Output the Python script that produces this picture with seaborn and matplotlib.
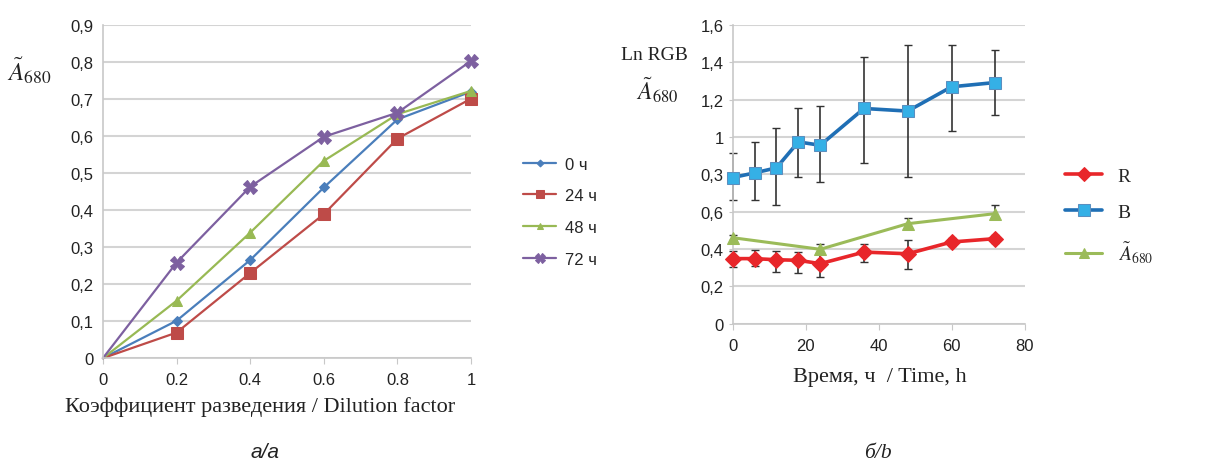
import matplotlib
matplotlib.use("Agg")
import matplotlib.pyplot as plt
import numpy as np
import pandas as pd
import seaborn as sns

# --- data: panel a (dilution series) ---
dilution = [0, 0.2, 0.4, 0.6, 0.8, 1.0]
a_0h = [0, 0.101, 0.265, 0.461, 0.645, 0.72]
a_24h = [0, 0.069, 0.230, 0.389, 0.593, 0.701]
a_48h = [0, 0.155, 0.339, 0.533, 0.659, 0.722]
a_72h = [0, 0.258, 0.463, 0.598, 0.663, 0.803]
series_names = ["0 ч", "24 ч", "48 ч", "72 ч"]

# --- data: panel b (time course) ---
time_h = [0, 6, 12, 18, 24, 36, 48, 60, 72]
b_val = [0.783, 0.808, 0.835, 0.974, 0.956, 1.153, 1.139, 1.269, 1.292]
b_hi = [0.912, 0.974, 1.046, 1.153, 1.166, 1.430, 1.493, 1.493, 1.466]
b_lo = [0.661, 0.661, 0.635, 0.787, 0.760, 0.862, 0.787, 1.033, 1.117]
r_val = [0.349, 0.349, 0.343, 0.340, 0.322, 0.384, 0.375, 0.438, 0.456]
r_hi = [0.389, 0.394, 0.390, 0.386, 0.376, 0.425, 0.447, 0.460, 0.478]
r_lo = [0.306, 0.310, 0.277, 0.272, 0.250, 0.330, 0.295, 0.414, 0.434]
time_a = [0, 24, 48, 72]
a680_val = [0.461, 0.399, 0.536, 0.590]
a680_hi = [0.475, 0.425, 0.566, 0.635]
a680_lo = [0.447, 0.380, 0.510, 0.570]
yticks_b = [0, 0.2, 0.4, 0.6, 0.8, 1.0, 1.2, 1.4, 1.6]
ytick_labels_b = ["0", "0,2", "0,4", "0,6", "0,3", "1", "1,2", "1,4", "1,6"]

sns.set_style("white")
plt.rcParams["font.family"] = ["Liberation Sans", "DejaVu Sans"]
plt.rcParams["mathtext.fontset"] = "stix"

serif = ["Liberation Serif", "DejaVu Serif"]
grid_c = "#d4d4d4"
txt_c = "#222222"
atilde = r"$\tilde{A}_{680}$"

fig = plt.figure(figsize=(12.11, 4.64), dpi=100)
ax1 = fig.add_axes([0.085, 0.226, 0.304, 0.718])
ax2 = fig.add_axes([0.605, 0.30, 0.241, 0.644])

# ---------- panel a ----------
colors_a = ["#4a7ebb", "#be4b48", "#98b954", "#7d60a0"]
markers_a = ["D", "s", "^", "X"]
msizes = [5, 9, 7, 10]
for vals, name, c, m, ms in zip([a_0h, a_24h, a_48h, a_72h], series_names,
                                colors_a, markers_a, msizes):
    sns.lineplot(x=dilution, y=vals, ax=ax1, color=c, marker=m, markersize=ms,
                 markeredgecolor=c, linewidth=1.6, label=name,
                 markevery=list(range(1, len(dilution))), clip_on=False)

ax1.set_xlim(0, 1)
ax1.set_ylim(0, 0.9)
ax1.set_xticks(dilution)
ax1.set_xticklabels(["0", "0.2", "0.4", "0.6", "0.8", "1"])
yt = np.arange(0, 0.91, 0.1)
ax1.set_yticks(yt)
ax1.set_yticklabels(["0"] + [f"0,{i}" for i in range(1, 10)])
ax1.yaxis.grid(True, color=grid_c, linewidth=1.5)
for s in ["top", "right"]:
    ax1.spines[s].set_visible(False)
for s in ["left", "bottom"]:
    ax1.spines[s].set_color("#c8c8c8")
    ax1.spines[s].set_linewidth(1.2)
ax1.tick_params(axis="x", bottom=True, length=4, color="#c8c8c8",
                labelsize=12, pad=6, labelcolor=txt_c)
ax1.tick_params(axis="y", left=False, labelsize=12, labelcolor=txt_c)
ax1.set_xlabel("Коэффициент разведения / Dilution factor", family=serif,
               fontsize=16, color=txt_c)
ax1.xaxis.set_label_coords(0.427, -0.115)
ax1.set_ylabel("")
fig.text(0.006, 0.825, atilde, fontsize=18, color=txt_c)
ax1.legend(loc="center left", bbox_to_anchor=(1.1, 0.44), frameon=False,
           fontsize=12, handlelength=2.0, handletextpad=0.5,
           labelspacing=1.0, markerscale=0.7)
fig.text(0.219, 0.012, "а/a", style="italic", fontsize=15, ha="center",
         color=txt_c)

# ---------- panel b ----------
c_r = "#e8262a"
c_b_line = "#1f6fb5"
c_b_mark = "#35b0e6"
c_g = "#9bbb59"
err_c = "#333333"

b_arr, r_arr, g_arr = np.array(b_val), np.array(r_val), np.array(a680_val)
for tt, v, lo, hi in [(time_h, b_arr, b_lo, b_hi), (time_h, r_arr, r_lo, r_hi),
                      (time_a, g_arr, a680_lo, a680_hi)]:
    ax2.errorbar(tt, v, yerr=[v - np.array(lo), np.array(hi) - v], fmt="none",
                 ecolor=err_c, elinewidth=1.2, capsize=3, zorder=2,
                 clip_on=False)

sns.lineplot(x=time_h, y=r_val, ax=ax2, color=c_r, marker="D", markersize=8,
             markeredgecolor=c_r, linewidth=2.6, label="R", zorder=3,
             clip_on=False)
sns.lineplot(x=time_h, y=b_val, ax=ax2, color=c_b_line, marker="s", markersize=9,
             markerfacecolor=c_b_mark, markeredgecolor="#5a8fc0",
             linewidth=2.6, label="B", zorder=3, clip_on=False)
sns.lineplot(x=time_a, y=a680_val, ax=ax2, color=c_g, marker="^", markersize=8,
             markeredgecolor=c_g, linewidth=2.2, label=atilde, zorder=3,
             clip_on=False)

ax2.set_xlim(0, 80)
ax2.set_ylim(0, 1.6)
ax2.set_xticks([0, 20, 40, 60, 80])
ax2.set_yticks(yticks_b)
ax2.set_yticklabels(ytick_labels_b)
ax2.yaxis.grid(True, color=grid_c, linewidth=1.5)
for s in ["top", "right"]:
    ax2.spines[s].set_visible(False)
for s in ["left", "bottom"]:
    ax2.spines[s].set_color("#c8c8c8")
    ax2.spines[s].set_linewidth(1.2)
ax2.tick_params(axis="x", bottom=True, length=4, color="#c8c8c8",
                labelsize=12, pad=6, labelcolor=txt_c)
ax2.tick_params(axis="y", left=True, length=3, color="#c8c8c8",
                labelsize=12, labelcolor=txt_c)
ax2.set_xlabel("Время, ч  / Time, h", family=serif, fontsize=16,
               color=txt_c)
ax2.xaxis.set_label_coords(0.503, -0.145)
ax2.set_ylabel("")
fig.text(0.513, 0.87, "Ln RGB", family=serif, fontsize=14, color=txt_c)
fig.text(0.525, 0.785, atilde, fontsize=17, color=txt_c)
ax2.legend(loc="center left", bbox_to_anchor=(1.08, 0.36), frameon=False,
           handlelength=1.9, labelspacing=0.95, markerscale=0.9,
           prop={"family": serif, "size": 14})
fig.text(0.725, 0.012, "б/b", style="italic", family=serif, fontsize=15.5,
         ha="center", color=txt_c)

fig.savefig("out.png", dpi=100)
